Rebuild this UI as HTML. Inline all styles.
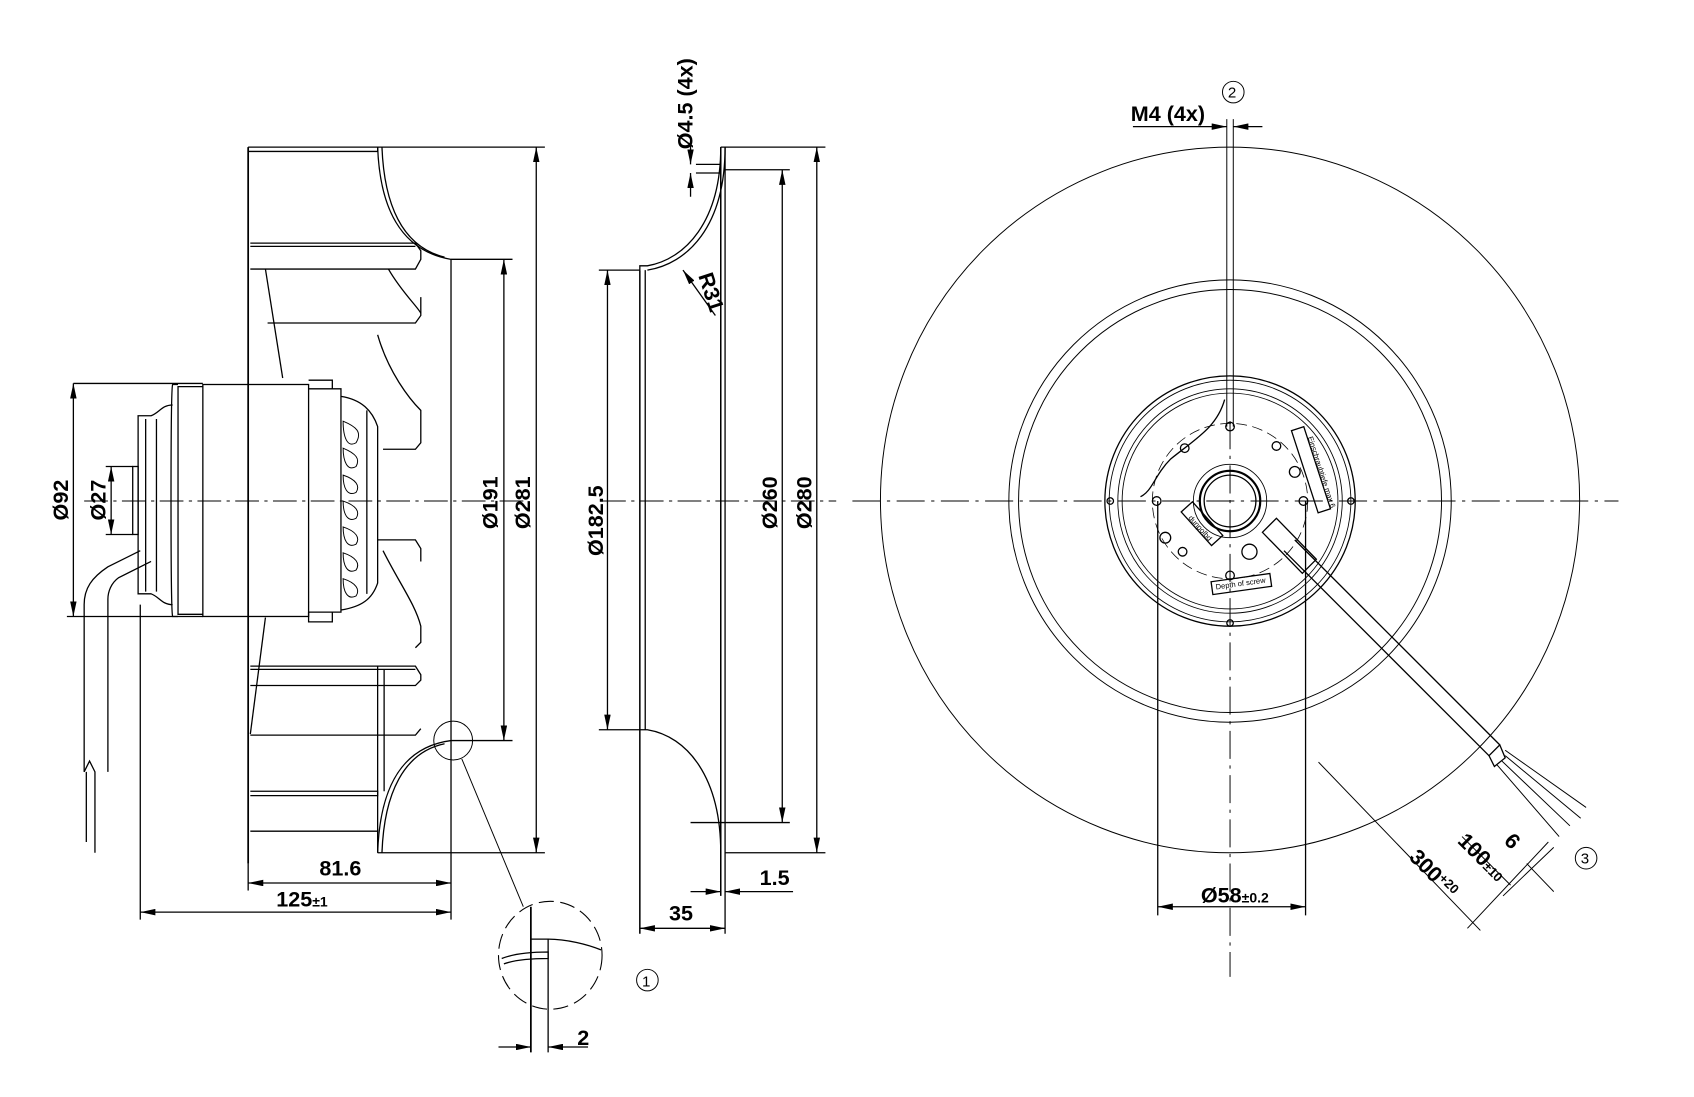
<!DOCTYPE html>
<html><head><meta charset="utf-8"><style>
html,body{margin:0;padding:0;background:#fff;}
svg{display:block}
text{font-family:"Liberation Sans Narrow","Liberation Sans",sans-serif;fill:#000}
</style></head><body>
<svg width="1694" height="1097" viewBox="0 0 1570 1016" xmlns="http://www.w3.org/2000/svg">
<defs>
<marker id="a" viewBox="0 0 14 6" refX="14" refY="3" markerWidth="14" markerHeight="6" orient="auto-start-reverse" markerUnits="userSpaceOnUse"><path d="M0,0L14,3L0,6Z" fill="#000"/></marker>
</defs>
<g fill="none" stroke="#000" stroke-width="1.2">
<!-- ===== LEFT VIEW ===== -->
<line x1="78" y1="464" x2="485" y2="464" stroke-dasharray="22,5,3,5" stroke-width="0.9"/>
<line x1="230" y1="136" x2="230" y2="800" stroke-width="1.6"/>
<path d="M230,136H350V140H230"/>
<line x1="350" y1="136" x2="505" y2="136"/>
<path d="M350,136C352,190 370,232 418,240"/><path d="M354,136C356,188 372,228 412,238"/>
<path d="M232,225H385L390,232V240L385,249H232"/><line x1="232" y1="228" x2="385" y2="228"/>
<path d="M246,249L262,350"/><path d="M248,299H385L390,292V275"/>
<path d="M360,249C372,270 388,285 390,290"/>
<path d="M350,310C360,345 380,370 390,380V410L385,416H355"/>
<path d="M350,500H385L390,508V520"/>
<path d="M355,510C370,540 385,560 390,580V595L385,600"/>
<path d="M246,572L232,680"/>
<path d="M232,617H385L390,625V630L385,635H232"/><path d="M232,620H385"/>
<path d="M232,681H385L390,675"/>
<path d="M232,733H350V737H232"/>
<path d="M232,770H350"/>
<path d="M350,790C352,730 372,692 418,686"/><path d="M354,790C356,735 374,697 412,689"/>
<line x1="350" y1="617" x2="350" y2="790"/><line x1="356" y1="620" x2="356" y2="733"/>
<line x1="350" y1="790" x2="505" y2="790"/>
<line x1="418" y1="240" x2="418" y2="852"/>
<line x1="418" y1="240" x2="475" y2="240"/><line x1="418" y1="686" x2="475" y2="686"/>
<line x1="467" y1="240" x2="467" y2="686" marker-start="url(#a)" marker-end="url(#a)"/>
<line x1="497" y1="136" x2="497" y2="790" marker-start="url(#a)" marker-end="url(#a)"/>
<!-- motor -->
<rect x="188" y="356" width="98" height="215"/>
<path d="M286,360H316V567H286"/><path d="M286,352H308V360M286,567V576H308V567"/>
<path d="M316,367C335,370 345,380 350,395V540C345,555 335,562 316,565"/>
<path d="M340,380V550"/>
<g stroke-width="0.9">
<path d="M318,390C330,395 336,400 330,410C322,415 318,405 318,390Z"/>
<path d="M318,415C330,420 334,425 330,432C322,437 318,427 318,415Z"/>
<path d="M318,440C330,444 334,450 330,456C322,460 318,452 318,440Z"/>
<path d="M318,464C330,468 334,474 330,480C322,484 318,476 318,464Z"/>
<path d="M318,488C330,492 334,498 330,504C322,508 318,500 318,488Z"/>
<path d="M318,512C330,516 334,522 330,528C322,532 318,524 318,512Z"/>
<path d="M318,536C330,540 334,546 330,552C322,556 318,548 318,536Z"/>
</g>
<path d="M188,358H165V569H188"/>
<path d="M165,356H160C158,360 158,566 160,571H165"/>
<path d="M160,375C150,375 148,382 140,385H128V550H140C148,553 150,560 160,560"/>
<line x1="135" y1="388" x2="135" y2="548"/><line x1="145" y1="388" x2="145" y2="548"/>
<rect x="123" y="432" width="5" height="63"/>
<!-- cable -->
<path d="M130,510L100,525C85,535 78,545 78,560V715"/>
<path d="M140,520L110,535C103,540 100,548 100,555V715"/>
<path d="M78,715L83,705L88,715V790M80,715V780"/>
<line x1="68" y1="355" x2="188" y2="355"/><line x1="62" y1="571" x2="188" y2="571"/>
<line x1="68" y1="355" x2="68" y2="571" marker-start="url(#a)" marker-end="url(#a)"/>
<line x1="98" y1="432" x2="123" y2="432"/><line x1="98" y1="495" x2="123" y2="495"/>
<line x1="103" y1="432" x2="103" y2="495" marker-start="url(#a)" marker-end="url(#a)"/>
<line x1="130" y1="560" x2="130" y2="852"/>
<line x1="230" y1="800" x2="230" y2="825"/>
<line x1="230" y1="818" x2="418" y2="818" marker-start="url(#a)" marker-end="url(#a)"/>
<line x1="130" y1="845" x2="418" y2="845" marker-start="url(#a)" marker-end="url(#a)"/>
<!-- detail -->
<circle cx="420" cy="686" r="18" stroke-width="0.9"/>
<line x1="428" y1="703" x2="485" y2="840" stroke-width="0.9"/>
<ellipse cx="510" cy="885" rx="48" ry="50" stroke-dasharray="14,6" stroke-width="1"/>
<line x1="492" y1="840" x2="492" y2="975" stroke-width="1.6"/><line x1="508" y1="870" x2="508" y2="975"/>
<path d="M492,870H508M508,870C525,870 545,875 557,880"/>
<path d="M465,888C475,884 490,882 508,882V888C490,888 475,890 467,893"/>
<line x1="462" y1="970" x2="492" y2="970" marker-end="url(#a)"/><line x1="545" y1="970" x2="508" y2="970" marker-end="url(#a)"/>
<circle cx="600" cy="908" r="10" stroke-width="0.9"/>
<!-- ===== MIDDLE VIEW ===== -->
<line x1="558" y1="464" x2="775" y2="464" stroke-dasharray="22,5,3,5" stroke-width="0.9"/>
<line x1="593" y1="250" x2="593" y2="865" stroke-width="1.4"/><line x1="598" y1="250" x2="598" y2="676"/>
<path d="M593,250V246H600C635,240 668,205 668,136"/><path d="M600,250C637,244 672,210 672,136"/>
<line x1="668" y1="136" x2="668" y2="830" stroke-width="1.4"/><line x1="672" y1="136" x2="672" y2="865"/>
<path d="M593,676H600C637,682 668,720 668,790"/>
<line x1="668" y1="136" x2="765" y2="136"/><line x1="672" y1="790" x2="765" y2="790"/>
<line x1="672" y1="157" x2="732" y2="157"/><line x1="640" y1="762" x2="732" y2="762"/>
<line x1="725" y1="157" x2="725" y2="762" marker-start="url(#a)" marker-end="url(#a)"/>
<line x1="757" y1="136" x2="757" y2="790" marker-start="url(#a)" marker-end="url(#a)"/>
<line x1="555" y1="250" x2="593" y2="250"/><line x1="555" y1="676" x2="593" y2="676"/>
<line x1="563" y1="250" x2="563" y2="676" marker-start="url(#a)" marker-end="url(#a)"/>
<line x1="645" y1="152" x2="668" y2="152"/><line x1="645" y1="160" x2="668" y2="160"/>
<line x1="640" y1="130" x2="640" y2="152" marker-end="url(#a)"/><line x1="640" y1="182" x2="640" y2="160" marker-end="url(#a)"/>
<line x1="663" y1="292" x2="633" y2="250" marker-end="url(#a)"/>
<line x1="593" y1="860" x2="672" y2="860" marker-start="url(#a)" marker-end="url(#a)"/>
<line x1="640" y1="826" x2="668" y2="826" marker-end="url(#a)"/><line x1="735" y1="826" x2="672" y2="826" marker-end="url(#a)"/>
<!-- ===== RIGHT VIEW ===== -->
<line x1="790" y1="464" x2="1500" y2="464" stroke-dasharray="26,6,3,6" stroke-width="0.9"/>
<line x1="1140" y1="390" x2="1140" y2="905" stroke-dasharray="26,6,3,6" stroke-width="0.9"/>
<ellipse cx="1140" cy="463" rx="324" ry="327" stroke-width="0.9"/>
<circle cx="1140" cy="464" r="205" stroke-width="0.9"/>
<circle cx="1140" cy="464" r="196" stroke-width="0.9"/>
<circle cx="1140" cy="464" r="116"/><circle cx="1140" cy="464" r="112" stroke-width="0.8"/>
<circle cx="1140" cy="464" r="104" stroke-width="0.8"/><circle cx="1140" cy="464" r="100" stroke-width="0.8"/>
<circle cx="1140" cy="464" r="72" stroke-dasharray="10,5" stroke-width="0.7"/>
<circle cx="1140" cy="464" r="34" stroke-width="0.8"/><circle cx="1140" cy="464" r="28" stroke-width="2"/><circle cx="1140" cy="464" r="24"/>
<circle cx="1140" cy="395" r="4"/><circle cx="1140" cy="533" r="4"/><circle cx="1072" cy="464" r="4"/><circle cx="1208" cy="464" r="4"/>
<circle cx="1029" cy="464" r="3"/><circle cx="1252" cy="464" r="3"/><circle cx="1140" cy="577" r="3"/>
<circle cx="1098" cy="415" r="4"/><circle cx="1183" cy="413" r="4"/><circle cx="1200" cy="437" r="5"/>
<circle cx="1080" cy="498" r="5"/><circle cx="1096" cy="511" r="4"/><circle cx="1158" cy="511" r="7"/>
<path d="M1135,370C1128,395 1110,405 1085,425C1070,440 1068,455 1057,460"/>
<rect x="1093" y="478" width="42" height="14" transform="rotate(48 1114 485)"/>
<rect x="1123" y="535" width="55" height="12" transform="rotate(-8 1150 541)"/>
<rect x="1175" y="429" width="80" height="12" transform="rotate(72 1215 435)"/>
<path d="M1170,493L1183,480L1220,518L1207,531Z"/>
<line x1="1137" y1="110" x2="1137" y2="395" stroke-width="0.9"/><line x1="1143" y1="110" x2="1143" y2="395" stroke-width="0.9"/>
<line x1="1050" y1="117" x2="1137" y2="117" marker-end="url(#a)"/><line x1="1170" y1="117" x2="1143" y2="117" marker-end="url(#a)"/>
<circle cx="1143" cy="85" r="10" stroke-width="0.9"/>
<!-- cable -->
<line x1="1190" y1="510" x2="1380" y2="700"/><line x1="1200" y1="500" x2="1390" y2="690"/>
<path d="M1380,700L1390,690L1395,702L1385,710Z"/>
<path d="M1387,708L1445,775M1392,705L1455,765M1395,700L1465,758M1395,695L1470,748" stroke-width="0.9"/>
<line x1="1073" y1="464" x2="1073" y2="848"/><line x1="1210" y1="464" x2="1210" y2="848"/>
<line x1="1073" y1="840" x2="1210" y2="840" marker-start="url(#a)" marker-end="url(#a)"/>
<line x1="1222" y1="706" x2="1372" y2="862" stroke-width="0.9"/>
<line x1="1360" y1="860" x2="1435" y2="780" stroke-width="0.9"/>
<line x1="1355" y1="775" x2="1400" y2="820" stroke-width="0.9"/>
<line x1="1393" y1="830" x2="1440" y2="785" stroke-width="0.9"/>
<line x1="1415" y1="800" x2="1440" y2="826" stroke-width="0.9"/>
<circle cx="1470" cy="795" r="10" stroke-width="0.9"/>
</g>
<!-- TEXT -->
<g font-size="20" font-weight="bold">
<text transform="translate(63,482) rotate(-90)">Ø92</text>
<text transform="translate(98,482) rotate(-90)">Ø27</text>
<text transform="translate(461,490) rotate(-90)">Ø191</text>
<text transform="translate(491,490) rotate(-90)">Ø281</text>
<text x="296" y="811">81.6</text>
<text x="256" y="840">125<tspan font-size="13">±1</tspan></text>
<text x="535" y="968">2</text>
<text x="595" y="914" font-size="14" font-weight="normal">1</text>
<text transform="translate(642,138) rotate(-90)">Ø4.5 (4x)</text>
<text transform="translate(647,255) rotate(72)">R31</text>
<text transform="translate(559,515) rotate(-90)">Ø182.5</text>
<text transform="translate(720,490) rotate(-90)">Ø260</text>
<text transform="translate(752,490) rotate(-90)">Ø280</text>
<text x="704" y="820">1.5</text>
<text x="620" y="853">35</text>
<text x="1048" y="112">M4 (4x)</text>
<text x="1138" y="90" font-size="14" font-weight="normal">2</text>
<text x="1113" y="836">Ø58<tspan font-size="13">±0.2</tspan></text>
<text transform="translate(1305,795) rotate(45)">300<tspan font-size="12" dy="-6">+20</tspan></text>
<text transform="translate(1350,780) rotate(45)">100<tspan font-size="12">±10</tspan></text>
<text transform="translate(1393,780) rotate(45)">6</text>
<text x="1465" y="800" font-size="14" font-weight="normal">3</text>
<text font-size="7" font-weight="normal" transform="translate(1101,480) rotate(48)">dunpolbd</text>
<text font-size="7" font-weight="normal" transform="translate(1127,546) rotate(-8)">Depth of screw</text>
<text font-size="7" font-weight="normal" transform="translate(1212,405) rotate(72)">Einschraubtiefe max 6</text>
</g>
</svg>
</body></html>
